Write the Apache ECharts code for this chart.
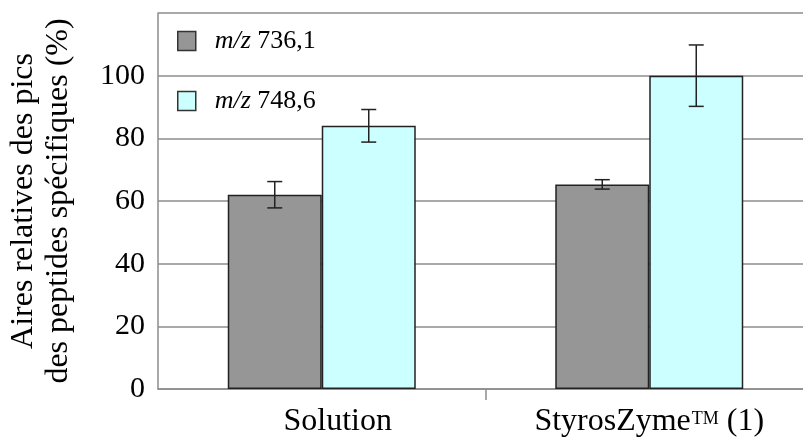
<!DOCTYPE html>
<html><head><meta charset="utf-8">
<script src="https://cdn.jsdelivr.net/npm/echarts@6/dist/echarts.min.js"></script>
<style>html,body{margin:0;padding:0;background:#fff}#c{width:803px;height:439px}</style>
</head><body><div id="c"></div>
<script>
const categories = ['Solution', 'StyrosZyme™ (1)'];
const seriesNames = ['m/z 736,1', 'm/z 748,6'];
const values736 = [62, 65.3];
const errors736 = [4.2, 1.5];
const values748 = [84, 100];
const errors748 = [5.2, 9.8];
const yMin = 0, yMax = 120, yStep = 20;
const yTitle = 'Aires relatives des pics\ndes peptides spécifiques (%)';

const FONT = '"Liberation Serif", "DejaVu Serif", serif';
const GAP = 0.426;
const colors = ['#969696', '#ccffff'];

function errRender(sign) {
  return function (params, api) {
    const x = api.value(0), v = api.value(1), e = api.value(2);
    const c = api.coord([x, v]);
    const band = api.size([1, 0])[0];
    const bw = band * (1 - GAP) / 2;
    const cx = c[0] + sign * bw / 2;
    const top = api.coord([x, v + e])[1];
    const bot = api.coord([x, v - e])[1];
    const hw = 7.5;
    const st = { stroke: '#222', lineWidth: 1.5 };
    return { type: 'group', children: [
      { type: 'line', shape: { x1: cx, y1: top, x2: cx, y2: bot }, style: st },
      { type: 'line', shape: { x1: cx - hw, y1: top, x2: cx + hw, y2: top }, style: st },
      { type: 'line', shape: { x1: cx - hw, y1: bot, x2: cx + hw, y2: bot }, style: st }
    ]};
  };
}

const chart = echarts.init(document.getElementById('c'), null, { renderer: 'canvas' });
chart.setOption({
  animation: false,
  backgroundColor: '#fff',
  grid: { left: 158, top: 13, bottom: 50, right: -10, containLabel: false, outerBoundsMode: 'none' },
  legend: {
    data: seriesNames,
    orient: 'vertical',
    left: 177, top: 28,
    padding: 0,
    itemWidth: 18, itemHeight: 19, itemGap: 34,
    icon: 'rect',
    itemStyle: { borderColor: '#333', borderWidth: 1.5 },
    formatter: n => '{g|}{i|' + n.slice(0, 3) + '}{n| ' + n.slice(4) + '}',
    textStyle: {
      color: '#000', fontFamily: FONT, fontSize: 26,
      rich: {
        g: { width: 14 },
        i: { fontFamily: FONT, fontSize: 26, fontStyle: 'italic', color: '#000', lineHeight: 28 },
        n: { fontFamily: FONT, fontSize: 26, color: '#000', lineHeight: 28 }
      }
    }
  },
  xAxis: [{
    type: 'category',
    data: categories,
    axisLine: { show: true, lineStyle: { color: '#8c8c8c', width: 1.5 } },
    axisTick: { show: false },
    axisLabel: {
      margin: 5,
      color: '#000',
      fontFamily: FONT,
      interval: 0,
      formatter: (v, i) => {
        if (v.indexOf('™') >= 0) {
          const p = v.split('™');
          return '{b|' + p[0] + '}{sup|TM}{b|' + p[1] + '}';
        }
        return '{s|' + v + '}';
      },
      rich: {
        b: { fontFamily: FONT, fontSize: 32, color: '#000', lineHeight: 44, verticalAlign: 'bottom' },
        s: { fontFamily: FONT, fontSize: 32, color: '#000', lineHeight: 44, verticalAlign: 'bottom', padding: [0, 0, 0, 32] },
        sup: { fontFamily: FONT, fontSize: 18, color: '#000', lineHeight: 20, verticalAlign: 'top', padding: [16, 0, 0, 1] }
      }
    }
  }, {
    type: 'value',
    position: 'bottom',
    min: 0, max: categories.length, interval: 1,
    axisLine: { show: false },
    axisLabel: { show: false },
    splitLine: { show: false },
    axisTick: { show: true, customValues: [1], length: 11, lineStyle: { color: '#8c8c8c', width: 1.5 } }
  }],
  yAxis: {
    type: 'value',
    min: yMin, max: yMax, interval: yStep,
    name: yTitle,
    nameLocation: 'middle',
    nameGap: 82,
    nameTextStyle: { fontFamily: FONT, fontSize: 32, color: '#000', lineHeight: 35 },
    axisLine: { show: true, lineStyle: { color: '#8c8c8c', width: 1.5 } },
    axisTick: { show: false },
    axisLabel: {
      margin: 13, color: '#000', fontFamily: FONT, fontSize: 30,
      formatter: v => (v === yMax ? '' : String(v))
    },
    splitLine: { show: true, lineStyle: { color: '#8c8c8c', width: 1.5 } }
  },
  series: [
    {
      name: seriesNames[0], type: 'bar', data: values736,
      barGap: '0%', barCategoryGap: (GAP * 100) + '%',
      itemStyle: { color: colors[0], borderColor: '#222', borderWidth: 1.5 }
    },
    {
      name: seriesNames[1], type: 'bar', data: values748,
      barGap: '0%', barCategoryGap: (GAP * 100) + '%',
      itemStyle: { color: colors[1], borderColor: '#222', borderWidth: 1.5 }
    },
    {
      type: 'custom', renderItem: errRender(-1), z: 10,
      encode: { x: 0, y: 1 },
      data: values736.map((v, i) => [i, v, errors736[i]])
    },
    {
      type: 'custom', renderItem: errRender(1), z: 10,
      encode: { x: 0, y: 1 },
      data: values748.map((v, i) => [i, v, errors748[i]])
    }
  ]
});
</script>
</body></html>
